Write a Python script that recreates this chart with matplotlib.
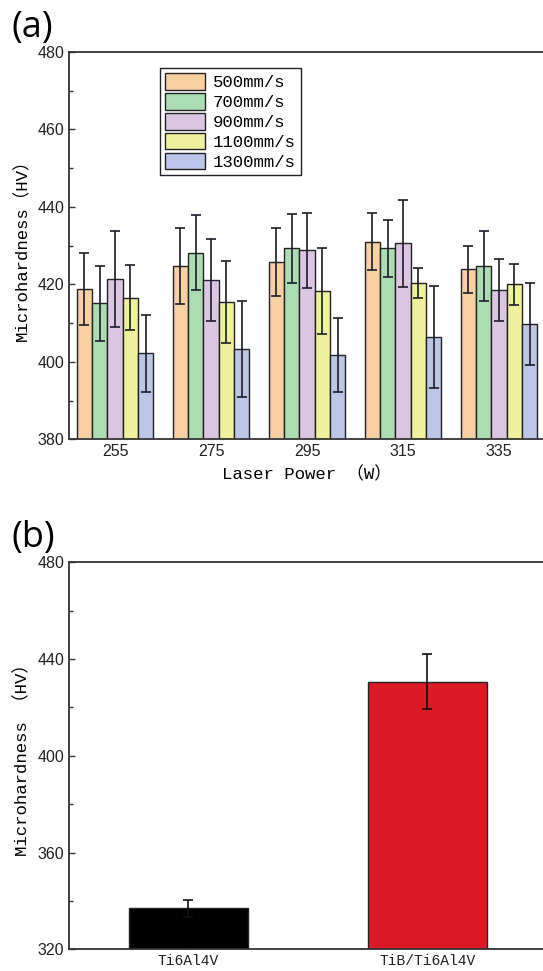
import matplotlib
matplotlib.use("Agg")
import matplotlib.pyplot as plt
from matplotlib.ticker import MultipleLocator
import numpy as np

# data
powers = ['255', '275', '295', '315', '335']
speeds = ['500mm/s', '700mm/s', '900mm/s', '1100mm/s', '1300mm/s']
hv_500 = [418.9, 424.7, 425.7, 431.0, 423.9]
hv_700 = [415.1, 428.2, 429.3, 429.3, 424.7]
hv_900 = [421.4, 421.1, 428.8, 430.6, 418.5]
hv_1100 = [416.5, 415.4, 418.3, 420.4, 420.0]
hv_1300 = [402.2, 403.3, 401.8, 406.5, 409.8]
err_500 = [9.3, 9.8, 8.8, 7.4, 6.0]
err_700 = [9.6, 9.7, 9.0, 7.4, 9.0]
err_900 = [12.3, 10.5, 9.7, 11.3, 8.0]
err_1100 = [8.4, 10.6, 11.0, 3.8, 5.2]
err_1300 = [10.0, 12.3, 9.5, 13.2, 10.5]

materials = ['Ti6Al4V', 'TiB/Ti6Al4V']
hv_mat = [336.9, 430.7]
err_mat = [3.4, 11.5]

speed_colors = ['#F8D0A2', '#ABDDB2', '#DCC4E3', '#EFF19C', '#BCC5EA']
mat_colors = ['#000000', '#DC1A26']

mono = ['Liberation Mono', 'Noto Sans CJK SC']
sans = 'Liberation Sans'
err_col = '#1c1c2c'

fig = plt.figure(figsize=(5.43, 9.71), dpi=100)


def style_axes(ax):
    for s in ax.spines.values():
        s.set_linewidth(1.3)
        s.set_color('#333333')
    ax.tick_params(which='both', direction='in', width=1.0, colors='#333333',
                   labelcolor='#222222')
    ax.tick_params(which='major', length=4)
    ax.tick_params(which='minor', length=3)
    for lab in ax.get_yticklabels():
        lab.set_fontfamily(sans)
        lab.set_fontsize(11.5)


# ---- (a) ----
ax1 = fig.add_axes([0.1271, 0.5476, 0.8766, 0.3988])
x = np.arange(len(powers))
w = 0.16
means = [hv_500, hv_700, hv_900, hv_1100, hv_1300]
errs = [err_500, err_700, err_900, err_1100, err_1300]
for i in range(len(speeds)):
    ax1.bar(x + (i - 2) * w, means[i], w, color=speed_colors[i], edgecolor='#222222',
            linewidth=1.0, label=speeds[i], zorder=2)
    ax1.errorbar(x + (i - 2) * w, means[i], yerr=errs[i], fmt='none', ecolor=err_col,
                 elinewidth=1.2, capsize=3.5, capthick=1.2, zorder=3)
ax1.set_xlim(-0.48, 4.48)
ax1.set_ylim(380, 480)
ax1.yaxis.set_major_locator(MultipleLocator(20))
ax1.yaxis.set_minor_locator(MultipleLocator(10))
ax1.set_xticks(x)
ax1.set_xticklabels(powers, fontfamily=sans, fontsize=11.5)
style_axes(ax1)
ax1.set_ylabel('Microhardness（HV）', family=mono, fontsize=12.5, labelpad=5)
ax1.set_xlabel('Laser Power （W）', family=mono, fontsize=12.5, labelpad=5)
leg = ax1.legend(loc='upper left', bbox_to_anchor=(0.191, 0.9587), borderaxespad=0,
                 prop={'family': 'Liberation Mono', 'size': 12.5}, fancybox=False,
                 edgecolor='#222222', framealpha=1, handlelength=2.3,
                 handleheight=1.1, labelspacing=0.15, handletextpad=0.45,
                 borderpad=0.3)
leg.get_frame().set_linewidth(1.0)

# ---- (b) ----
ax2 = fig.add_axes([0.1271, 0.02235, 0.880, 0.3986])
xb = np.arange(len(materials))
ax2.bar(xb, hv_mat, 0.5, color=mat_colors, edgecolor='#222222', linewidth=1.0, zorder=2)
ax2.errorbar(xb, hv_mat, yerr=err_mat, fmt='none', ecolor='#111111',
             elinewidth=1.2, capsize=3.5, capthick=1.2, zorder=3)
ax2.set_xlim(-0.5, 1.5)
ax2.set_ylim(320, 480)
ax2.yaxis.set_major_locator(MultipleLocator(40))
ax2.yaxis.set_minor_locator(MultipleLocator(20))
ax2.set_xticks(xb)
ax2.set_xticklabels(materials, fontfamily='Liberation Mono', fontsize=10.5)
style_axes(ax2)
ax2.set_ylabel('Microhardness （HV）', family=mono, fontsize=12.5, labelpad=5)

fig.text(0.022, 1 - 28 / 971, '(a)', family='Open Sans', fontsize=26, va='center')
fig.text(0.022, 0.4464, '(b)', family='Open Sans', fontsize=26, va='center')

fig.savefig('out.png', dpi=100)
